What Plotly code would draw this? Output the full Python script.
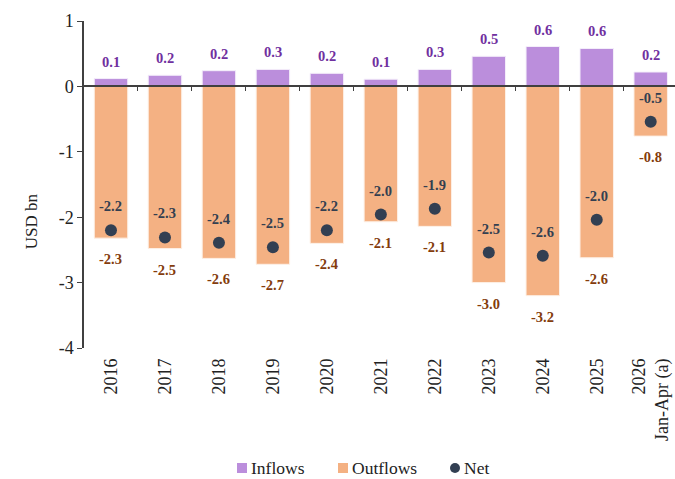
import plotly.graph_objects as go

# Annual flows, USD bn
categories = ["2016", "2017", "2018", "2019", "2020", "2021", "2022",
              "2023", "2024", "2025", "2026<br>Jan-Apr (a)"]
inflows = [0.12, 0.17, 0.24, 0.26, 0.20, 0.11, 0.26, 0.46, 0.61, 0.58, 0.22]
outflows = [-2.32, -2.48, -2.63, -2.72, -2.40, -2.07, -2.14, -3.00, -3.20, -2.62, -0.76]
net = [-2.20, -2.31, -2.39, -2.46, -2.20, -1.96, -1.87, -2.54, -2.59, -2.04, -0.54]
y_ticks = [1, 0, -1, -2, -3, -4]
y_tick_text = ["1", "0", "-1", "-2", "-3", "-4"]

C_IN = "#bb8edc"
C_OUT = "#f4b183"
C_NET = "#323f52"
T_IN = "#7030a0"
T_OUT = "#843c0c"
T_NET = "#333f50"
AXIS = "#404040"
SERIF = "Liberation Serif"

W, H = 675, 479
ML, MR, MT, MB = 84, 0, 21, 131
PW, PH = W - ML - MR, H - MT - MB


def px_x(px):
    return (px - ML) / PW


def px_y(py):
    return (H - MB - py) / PH


x = list(range(len(categories)))

fig = go.Figure()
fig.add_trace(go.Bar(x=x, y=inflows, name="Inflows", width=0.62,
                     marker=dict(color=C_IN, line=dict(color="#f4eefa", width=1))))
fig.add_trace(go.Bar(x=x, y=outflows, name="Outflows", width=0.62,
                     marker=dict(color=C_OUT, line=dict(color="#fdf0e6", width=1))))
fig.add_trace(go.Scatter(x=x, y=net, name="Net", mode="markers",
                         marker=dict(color=C_NET, size=12)))

# invisible helper trace on the zero-line axis
fig.add_trace(go.Scatter(x=[x[0]], y=[0], xaxis="x2", mode="markers",
                         marker=dict(opacity=0), showlegend=False, hoverinfo="skip"))

annotations = []
lab_font = dict(family=SERIF, size=14.5)
for i in x:
    annotations.append(dict(x=i, y=inflows[i], text=f"<b>{inflows[i]:.1f}</b>",
                            showarrow=False, yshift=17, font=dict(**lab_font, color=T_IN)))
    annotations.append(dict(x=i, y=outflows[i], text=f"<b>{outflows[i]:.1f}</b>",
                            showarrow=False, yshift=-21, font=dict(**lab_font, color=T_OUT)))
    annotations.append(dict(x=i, y=net[i], text=f"<b>{net[i]:.1f}</b>",
                            showarrow=False, yshift=24, font=dict(**lab_font, color=T_NET)))

annotations.append(dict(xref="paper", x=0, y=-2.07, xshift=-64, text="USD bn",
                        textangle=-90, showarrow=False,
                        font=dict(family=SERIF, size=17, color="#222")))

# legend row drawn below the axis labels
shapes = []
legend_items = [("Inflows", C_IN, "square", 242), ("Outflows", C_OUT, "square", 343),
                ("Net", C_NET, "circle", 455)]
ly = 468
for name, col, kind, cx in legend_items:
    shapes.append(dict(type="rect" if kind == "square" else "circle",
                       xref="paper", yref="paper",
                       x0=px_x(cx - 5), x1=px_x(cx + 5),
                       y0=px_y(ly + 5), y1=px_y(ly - 5),
                       fillcolor=col, line=dict(width=0)))
    annotations.append(dict(xref="paper", yref="paper", x=px_x(cx + 7), y=px_y(ly),
                            xanchor="left", yanchor="middle", text=name, showarrow=False,
                            font=dict(family=SERIF, size=17.5, color="#222")))

xr = [-0.5, 10.45]
fig.update_layout(
    width=W, height=H,
    margin=dict(l=ML, r=MR, t=MT, b=MB, autoexpand=False),
    paper_bgcolor="white", plot_bgcolor="white",
    barmode="overlay",
    showlegend=False,
    font=dict(family=SERIF, color="#222"),
    xaxis=dict(range=xr, tickvals=x, ticktext=categories, tickangle=-90,
               showline=False, showgrid=False, zeroline=False, ticks="",
               automargin=False, ticklabelstandoff=6,
               tickfont=dict(family=SERIF, size=18, color="#222")),
    xaxis2=dict(range=xr, overlaying="x", anchor="free", position=0.8, side="bottom",
                showline=True, linecolor=AXIS, linewidth=1.5,
                tickvals=[i + 0.5 for i in x[:-1]], ticktext=[""] * (len(x) - 1),
                ticks="outside", ticklen=4, tickcolor=AXIS, tickwidth=1.3,
                showgrid=False, zeroline=False, automargin=False),
    yaxis=dict(range=[-4, 1], tickvals=y_ticks, ticktext=y_tick_text,
               showgrid=False, zeroline=False, automargin=False,
               showline=True, linecolor=AXIS, linewidth=1.5,
               ticks="outside", ticklen=5, tickcolor=AXIS, tickwidth=1.3,
               tickfont=dict(family=SERIF, size=18, color="#222")),
    annotations=annotations,
    shapes=shapes,
)

fig.write_html("out.html")
